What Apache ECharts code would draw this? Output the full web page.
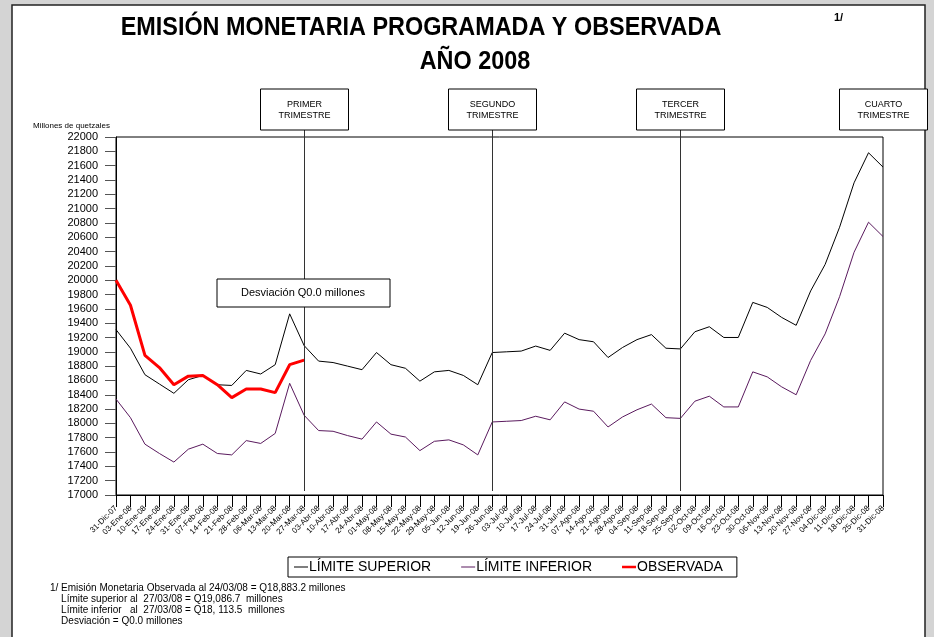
<!DOCTYPE html>
<html>
<head>
<meta charset="utf-8">
<title>Emisión monetaria 2008</title>
<script src="https://cdn.jsdelivr.net/npm/echarts@6/dist/echarts.min.js"></script>
<style>
    html, body { margin: 0; padding: 0; background: #d4d4d4; }
    #main { width: 934px; height: 637px; }
</style>
</head>
<body>
<div id="main"></div>
<script>
// semanas del año (eje x)
var categorias = ['31-Dic-07', '03-Ene-08', '10-Ene-08', '17-Ene-08', '24-Ene-08', '31-Ene-08',
    '07-Feb-08', '14-Feb-08', '21-Feb-08', '28-Feb-08', '06-Mar-08', '13-Mar-08', '20-Mar-08',
    '27-Mar-08', '03-Abr-08', '10-Abr-08', '17-Abr-08', '24-Abr-08', '01-May-08', '08-May-08',
    '15-May-08', '22-May-08', '29-May-08', '05-Jun-08', '12-Jun-08', '19-Jun-08', '26-Jun-08',
    '03-Jul-08', '10-Jul-08', '17-Jul-08', '24-Jul-08', '31-Jul-08', '07-Ago-08', '14-Ago-08',
    '21-Ago-08', '28-Ago-08', '04-Sep-08', '11-Sep-08', '18-Sep-08', '25-Sep-08', '02-Oct-08',
    '09-Oct-08', '16-Oct-08', '23-Oct-08', '30-Oct-08', '06-Nov-08', '13-Nov-08', '20-Nov-08',
    '27-Nov-08', '04-Dic-08', '11-Dic-08', '18-Dic-08', '25-Dic-08', '31-Dic-08'];

var limiteSuperior = [19310, 19050, 18680, 18550, 18420, 18610, 18670, 18540, 18530, 18740,
    18690, 18820, 19530, 19086.7, 18870, 18850, 18800, 18750, 18990, 18820, 18770, 18590,
    18720, 18740, 18670, 18540, 18990, 19000, 19010, 19080, 19020, 19260, 19170, 19140,
    18920, 19060, 19170, 19240, 19050, 19040, 19280, 19350, 19200, 19200, 19690, 19620,
    19480, 19370, 19850, 20220, 20740, 21360, 21780, 21580];

var limiteInferior = [18340, 18080, 17710, 17580, 17460, 17640, 17710, 17580, 17560, 17760,
    17720, 17860, 18560, 18113.5, 17900, 17890, 17830, 17780, 18020, 17850, 17810, 17620,
    17750, 17770, 17700, 17560, 18020, 18030, 18040, 18100, 18050, 18300, 18200, 18170,
    17950, 18090, 18190, 18270, 18080, 18070, 18310, 18380, 18230, 18230, 18720, 18650,
    18510, 18400, 18880, 19250, 19770, 20390, 20810, 20610];

var observada = [20000, 19650, 18950, 18780, 18540, 18660, 18670, 18540, 18360, 18480,
    18480, 18430, 18820, 18883.2];

var ejeY = { min: 17000, max: 22000, paso: 200 };

var trimestres = [
    { texto: 'PRIMER\nTRIMESTRE', fecha: '27-Mar-08', linea: true },
    { texto: 'SEGUNDO\nTRIMESTRE', fecha: '26-Jun-08', linea: true },
    { texto: 'TERCER\nTRIMESTRE', fecha: '25-Sep-08', linea: true },
    { texto: 'CUARTO\nTRIMESTRE', fecha: '31-Dic-08', linea: false }
];

var notas = [
    '1/ Emisión Monetaria Observada al 24/03/08 = Q18,883.2 millones',
    '    Límite superior al  27/03/08 = Q19,086.7  millones',
    '    Límite inferior   al  27/03/08 = Q18, 113.5  millones',
    '    Desviación = Q0.0 millones'
];

var FONT = 'Liberation Sans, Arial, sans-serif';

// iconos de leyenda: una raya horizontal (las esquinas mínimas fijan la caja)
var rayaFina = 'path://M0,0H0.05V0.05H0Z M0,4.5H18V5.5H0Z M17.95,9.95H18V10H17.95Z';
var rayaGruesa = 'path://M0,0H0.05V0.05H0Z M0,3.5H18V6.5H0Z M17.95,9.95H18V10H17.95Z';

var myChart = echarts.init(document.getElementById('main'));

var option = {
    backgroundColor: 'transparent',
    animation: false,
    textStyle: { fontFamily: FONT },
    grid: {
        left: 116,
        right: 51,
        top: 137,
        bottom: 142,
        show: true,
        borderColor: '#000',
        borderWidth: 1
    },
    legend: {
        left: 288,
        top: 557,
        padding: [3, 14, 3, 6],
        itemGap: 30,
        itemWidth: 14,
        itemHeight: 10,
        borderColor: '#000',
        borderWidth: 1,
        borderRadius: 0,
        backgroundColor: '#fff',
        textStyle: { fontSize: 14, color: '#000', padding: [0, 0, 0, -4] },
        data: [
            { name: 'LÍMITE SUPERIOR', icon: rayaFina },
            { name: 'LÍMITE INFERIOR', icon: rayaFina },
            { name: 'OBSERVADA', icon: rayaGruesa }
        ]
    },
    xAxis: {
        type: 'category',
        data: categorias,
        boundaryGap: false,
        axisLine: { lineStyle: { color: '#000', width: 1 } },
        axisTick: { length: 12, lineStyle: { color: '#000' }, interval: 0 },
        axisLabel: {
            interval: 0,
            rotate: 45,
            fontSize: 8,
            color: '#000',
            margin: 12
        },
        splitLine: { show: false }
    },
    yAxis: {
        type: 'value',
        min: ejeY.min,
        max: ejeY.max,
        interval: ejeY.paso,
        axisLine: { show: true, lineStyle: { color: '#000' } },
        axisTick: { show: true, length: 11, lineStyle: { color: '#555' } },
        axisLabel: {
            fontSize: 11,
            color: '#000',
            margin: 18,
            formatter: function (v) { return String(v); }
        },
        splitLine: { show: false }
    },
    series: [
        {
            name: 'LÍMITE SUPERIOR',
            type: 'line',
            data: limiteSuperior,
            symbol: 'none',
            lineStyle: { color: '#000', width: 1 },
            itemStyle: { color: '#000' }
        },
        {
            name: 'LÍMITE INFERIOR',
            type: 'line',
            data: limiteInferior,
            symbol: 'none',
            lineStyle: { color: '#5a1a5e', width: 1 },
            itemStyle: { color: '#5a1a5e' }
        },
        {
            name: 'OBSERVADA',
            type: 'line',
            data: observada,
            symbol: 'none',
            z: 5,
            lineStyle: { color: '#ff0000', width: 3 },
            itemStyle: { color: '#ff0000' }
        }
    ]
};

myChart.setOption(option);

// marco, titulos y cajas de los trimestres
var graficos = [
    {
        type: 'rect',
        z: -10,
        shape: { x: 12, y: 5, width: 913, height: 640 },
        style: { fill: '#fff', stroke: '#222', lineWidth: 1.5 }
    },
    {
        type: 'text',
        x: 421, y: 28,
        scaleX: 0.9,
        style: {
            text: 'EMISIÓN MONETARIA PROGRAMADA Y OBSERVADA',
            font: 'bold 26px ' + FONT,
            fill: '#000',
            align: 'center',
            verticalAlign: 'middle'
        }
    },
    {
        type: 'text',
        x: 475, y: 62,
        scaleX: 0.9,
        style: {
            text: 'AÑO 2008',
            font: 'bold 26px ' + FONT,
            fill: '#000',
            align: 'center',
            verticalAlign: 'middle'
        }
    },
    {
        type: 'text',
        x: 834, y: 18,
        style: { text: '1/', font: 'bold 11px ' + FONT, fill: '#000', verticalAlign: 'middle' }
    },
    {
        type: 'text',
        x: 33, y: 126,
        style: { text: 'Millones de quetzales', font: '8px ' + FONT, fill: '#000', verticalAlign: 'middle' }
    },
    {
        type: 'rect',
        shape: { x: 217, y: 279, width: 173, height: 28 },
        style: { fill: '#fff', stroke: '#000', lineWidth: 1 },
        z: 10
    },
    {
        type: 'text',
        x: 303, y: 293, z: 11,
        style: { text: 'Desviación Q0.0 millones', font: '11px ' + FONT, fill: '#000', align: 'center', verticalAlign: 'middle' }
    }
];

var yBase = myChart.convertToPixel({ yAxisIndex: 0 }, ejeY.min);
trimestres.forEach(function (t) {
    var x = Math.round(myChart.convertToPixel({ xAxisIndex: 0 }, t.fecha)) + 0.5;
    graficos.push({
        type: 'rect',
        shape: { x: x - 44, y: 89, width: 88, height: 41 },
        style: { fill: '#fff', stroke: '#000', lineWidth: 1 },
        z: 10
    });
    graficos.push({
        type: 'text',
        x: x, y: 110, z: 11,
        style: {
            text: t.texto,
            font: '9px ' + FONT,
            fill: '#000',
            align: 'center',
            verticalAlign: 'middle',
            lineHeight: 11
        }
    });
    if (t.linea) {
        graficos.push({
            type: 'line',
            shape: { x1: x, y1: 130, x2: x, y2: yBase - 4 },
            style: { stroke: '#333', lineWidth: 1 },
            z: 9
        });
    }
});

notas.forEach(function (n, i) {
    graficos.push({
        type: 'text',
        x: 50, y: 588 + i * 11,
        style: { text: n, font: '10px ' + FONT, fill: '#000', verticalAlign: 'middle' }
    });
});

myChart.setOption({ graphic: graficos });
</script>
</body>
</html>
